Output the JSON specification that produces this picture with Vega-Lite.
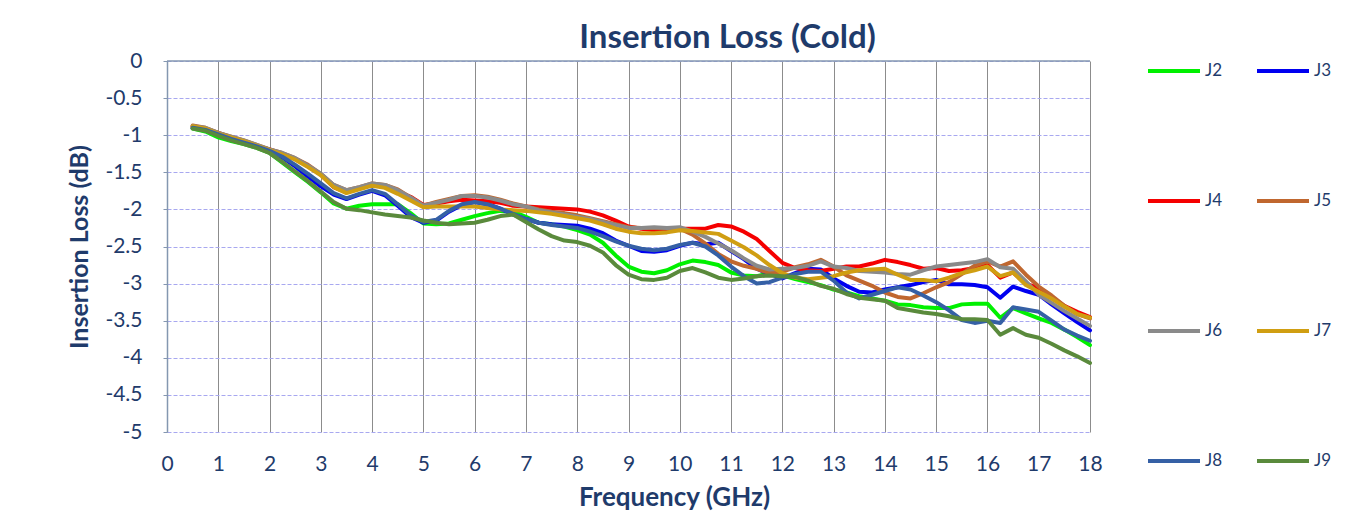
{
"$schema": "https://vega.github.io/schema/vega-lite/v6.json",
"width": 923, "height": 371,
"autosize": {"type": "none"},
"padding": {"left": 167, "top": 61, "right": 269, "bottom": 93},
"background": "white",
"config": {"font": "Lato", "view": {"stroke": null}},
"title": {"text": "Insertion Loss (Cold)", "fontSize": 33, "font": "Lato", "fontWeight": "bold", "color": "#1F3B6B", "anchor": "middle", "dx": 99, "offset": 12, "dy": 24},
"resolve": {"axis": {"y": "independent"}},
"layer": [
{
"data": {"values": [{"y": 0}]},
"mark": {"type": "rule", "color": "#8497B0", "strokeWidth": 1.5},
"encoding": {"y": {"field": "y", "type": "quantitative", "scale": {"domain": [-5, 0]}, "axis": null}}
},
{
"data": {"values": [
{"f":0.5,"J2":-0.91,"J3":-0.9,"J4":-0.88,"J5":-0.87,"J6":-0.88,"J7":-0.88,"J8":-0.9,"J9":-0.91},
{"f":0.75,"J2":-0.95,"J3":-0.93,"J4":-0.91,"J5":-0.9,"J6":-0.9,"J7":-0.91,"J8":-0.93,"J9":-0.94},
{"f":1.0,"J2":-1.03,"J3":-0.99,"J4":-0.97,"J5":-0.97,"J6":-0.97,"J7":-0.98,"J8":-0.99,"J9":-1.01},
{"f":1.25,"J2":-1.08,"J3":-1.05,"J4":-1.03,"J5":-1.02,"J6":-1.02,"J7":-1.03,"J8":-1.05,"J9":-1.07},
{"f":1.5,"J2":-1.12,"J3":-1.1,"J4":-1.08,"J5":-1.07,"J6":-1.07,"J7":-1.08,"J8":-1.1,"J9":-1.12},
{"f":1.75,"J2":-1.17,"J3":-1.15,"J4":-1.14,"J5":-1.13,"J6":-1.13,"J7":-1.14,"J8":-1.15,"J9":-1.17},
{"f":2.0,"J2":-1.24,"J3":-1.21,"J4":-1.19,"J5":-1.19,"J6":-1.19,"J7":-1.2,"J8":-1.21,"J9":-1.24},
{"f":2.25,"J2":-1.37,"J3":-1.3,"J4":-1.25,"J5":-1.24,"J6":-1.24,"J7":-1.26,"J8":-1.29,"J9":-1.36},
{"f":2.5,"J2":-1.5,"J3":-1.42,"J4":-1.32,"J5":-1.31,"J6":-1.31,"J7":-1.33,"J8":-1.4,"J9":-1.49},
{"f":2.75,"J2":-1.63,"J3":-1.56,"J4":-1.42,"J5":-1.4,"J6":-1.41,"J7":-1.43,"J8":-1.52,"J9":-1.62},
{"f":3.0,"J2":-1.77,"J3":-1.69,"J4":-1.53,"J5":-1.52,"J6":-1.52,"J7":-1.54,"J8":-1.65,"J9":-1.76},
{"f":3.25,"J2":-1.92,"J3":-1.8,"J4":-1.7,"J5":-1.67,"J6":-1.67,"J7":-1.7,"J8":-1.78,"J9":-1.9},
{"f":3.5,"J2":-1.99,"J3":-1.86,"J4":-1.77,"J5":-1.74,"J6":-1.74,"J7":-1.78,"J8":-1.85,"J9":-1.99},
{"f":3.75,"J2":-1.95,"J3":-1.8,"J4":-1.72,"J5":-1.7,"J6":-1.7,"J7":-1.73,"J8":-1.79,"J9":-2.01},
{"f":4.0,"J2":-1.93,"J3":-1.75,"J4":-1.67,"J5":-1.65,"J6":-1.65,"J7":-1.68,"J8":-1.74,"J9":-2.04},
{"f":4.25,"J2":-1.93,"J3":-1.81,"J4":-1.7,"J5":-1.67,"J6":-1.67,"J7":-1.71,"J8":-1.79,"J9":-2.07},
{"f":4.5,"J2":-1.93,"J3":-1.95,"J4":-1.76,"J5":-1.73,"J6":-1.74,"J7":-1.79,"J8":-1.93,"J9":-2.09},
{"f":4.75,"J2":-2.05,"J3":-2.1,"J4":-1.83,"J5":-1.84,"J6":-1.84,"J7":-1.88,"J8":-2.08,"J9":-2.11},
{"f":5.0,"J2":-2.19,"J3":-2.18,"J4":-1.94,"J5":-1.95,"J6":-1.95,"J7":-1.97,"J8":-2.17,"J9":-2.15},
{"f":5.25,"J2":-2.2,"J3":-2.15,"J4":-1.92,"J5":-1.9,"J6":-1.91,"J7":-1.96,"J8":-2.14,"J9":-2.18},
{"f":5.5,"J2":-2.19,"J3":-2.03,"J4":-1.89,"J5":-1.86,"J6":-1.87,"J7":-1.96,"J8":-2.02,"J9":-2.2},
{"f":5.75,"J2":-2.14,"J3":-1.94,"J4":-1.87,"J5":-1.82,"J6":-1.82,"J7":-1.96,"J8":-1.93,"J9":-2.19},
{"f":6.0,"J2":-2.09,"J3":-1.9,"J4":-1.88,"J5":-1.81,"J6":-1.82,"J7":-1.96,"J8":-1.9,"J9":-2.18},
{"f":6.25,"J2":-2.05,"J3":-1.93,"J4":-1.89,"J5":-1.83,"J6":-1.84,"J7":-1.98,"J8":-1.93,"J9":-2.14},
{"f":6.5,"J2":-2.02,"J3":-1.99,"J4":-1.91,"J5":-1.87,"J6":-1.88,"J7":-2.0,"J8":-1.99,"J9":-2.09},
{"f":6.75,"J2":-2.03,"J3":-2.07,"J4":-1.95,"J5":-1.92,"J6":-1.93,"J7":-2.01,"J8":-2.06,"J9":-2.07},
{"f":7.0,"J2":-2.1,"J3":-2.13,"J4":-1.96,"J5":-1.96,"J6":-1.96,"J7":-2.02,"J8":-2.13,"J9":-2.17},
{"f":7.25,"J2":-2.18,"J3":-2.18,"J4":-1.97,"J5":-2.0,"J6":-2.01,"J7":-2.04,"J8":-2.18,"J9":-2.27},
{"f":7.5,"J2":-2.2,"J3":-2.2,"J4":-1.98,"J5":-2.03,"J6":-2.04,"J7":-2.06,"J8":-2.21,"J9":-2.36},
{"f":7.75,"J2":-2.23,"J3":-2.21,"J4":-1.99,"J5":-2.05,"J6":-2.07,"J7":-2.09,"J8":-2.23,"J9":-2.42},
{"f":8.0,"J2":-2.28,"J3":-2.22,"J4":-2.0,"J5":-2.08,"J6":-2.1,"J7":-2.12,"J8":-2.25,"J9":-2.44},
{"f":8.25,"J2":-2.34,"J3":-2.26,"J4":-2.03,"J5":-2.12,"J6":-2.13,"J7":-2.15,"J8":-2.3,"J9":-2.49},
{"f":8.5,"J2":-2.45,"J3":-2.32,"J4":-2.08,"J5":-2.16,"J6":-2.17,"J7":-2.2,"J8":-2.36,"J9":-2.58},
{"f":8.75,"J2":-2.62,"J3":-2.42,"J4":-2.15,"J5":-2.2,"J6":-2.21,"J7":-2.26,"J8":-2.43,"J9":-2.75},
{"f":9.0,"J2":-2.77,"J3":-2.49,"J4":-2.23,"J5":-2.24,"J6":-2.25,"J7":-2.3,"J8":-2.49,"J9":-2.88},
{"f":9.25,"J2":-2.84,"J3":-2.56,"J4":-2.26,"J5":-2.25,"J6":-2.25,"J7":-2.32,"J8":-2.53,"J9":-2.94},
{"f":9.5,"J2":-2.86,"J3":-2.57,"J4":-2.28,"J5":-2.25,"J6":-2.24,"J7":-2.32,"J8":-2.55,"J9":-2.95},
{"f":9.75,"J2":-2.82,"J3":-2.55,"J4":-2.28,"J5":-2.26,"J6":-2.25,"J7":-2.31,"J8":-2.53,"J9":-2.92},
{"f":10.0,"J2":-2.74,"J3":-2.49,"J4":-2.26,"J5":-2.26,"J6":-2.24,"J7":-2.28,"J8":-2.48,"J9":-2.83},
{"f":10.25,"J2":-2.69,"J3":-2.45,"J4":-2.26,"J5":-2.34,"J6":-2.3,"J7":-2.29,"J8":-2.45,"J9":-2.79},
{"f":10.5,"J2":-2.71,"J3":-2.47,"J4":-2.26,"J5":-2.46,"J6":-2.37,"J7":-2.31,"J8":-2.5,"J9":-2.85},
{"f":10.75,"J2":-2.75,"J3":-2.45,"J4":-2.21,"J5":-2.6,"J6":-2.46,"J7":-2.33,"J8":-2.62,"J9":-2.92},
{"f":11.0,"J2":-2.85,"J3":-2.56,"J4":-2.23,"J5":-2.7,"J6":-2.55,"J7":-2.42,"J8":-2.77,"J9":-2.95},
{"f":11.25,"J2":-2.89,"J3":-2.67,"J4":-2.3,"J5":-2.76,"J6":-2.66,"J7":-2.51,"J8":-2.9,"J9":-2.93},
{"f":11.5,"J2":-2.9,"J3":-2.8,"J4":-2.4,"J5":-2.8,"J6":-2.76,"J7":-2.62,"J8":-3.0,"J9":-2.9},
{"f":11.75,"J2":-2.86,"J3":-2.87,"J4":-2.56,"J5":-2.86,"J6":-2.81,"J7":-2.75,"J8":-2.98,"J9":-2.89},
{"f":12.0,"J2":-2.89,"J3":-2.93,"J4":-2.72,"J5":-2.84,"J6":-2.8,"J7":-2.86,"J8":-2.92,"J9":-2.9},
{"f":12.25,"J2":-2.94,"J3":-2.86,"J4":-2.79,"J5":-2.78,"J6":-2.79,"J7":-2.92,"J8":-2.87,"J9":-2.91},
{"f":12.5,"J2":-2.98,"J3":-2.8,"J4":-2.82,"J5":-2.74,"J6":-2.76,"J7":-2.94,"J8":-2.84,"J9":-2.96},
{"f":12.75,"J2":-3.02,"J3":-2.81,"J4":-2.83,"J5":-2.68,"J6":-2.7,"J7":-2.92,"J8":-2.84,"J9":-3.03},
{"f":13.0,"J2":-3.08,"J3":-2.93,"J4":-2.8,"J5":-2.77,"J6":-2.77,"J7":-2.9,"J8":-2.96,"J9":-3.07},
{"f":13.25,"J2":-3.12,"J3":-3.03,"J4":-2.77,"J5":-2.89,"J6":-2.79,"J7":-2.85,"J8":-3.12,"J9":-3.14},
{"f":13.5,"J2":-3.17,"J3":-3.11,"J4":-2.77,"J5":-2.96,"J6":-2.83,"J7":-2.82,"J8":-3.2,"J9":-3.19},
{"f":13.75,"J2":-3.2,"J3":-3.12,"J4":-2.73,"J5":-3.03,"J6":-2.84,"J7":-2.81,"J8":-3.15,"J9":-3.21},
{"f":14.0,"J2":-3.23,"J3":-3.08,"J4":-2.68,"J5":-3.12,"J6":-2.85,"J7":-2.8,"J8":-3.1,"J9":-3.23},
{"f":14.25,"J2":-3.28,"J3":-3.05,"J4":-2.71,"J5":-3.18,"J6":-2.87,"J7":-2.88,"J8":-3.05,"J9":-3.33},
{"f":14.5,"J2":-3.29,"J3":-3.02,"J4":-2.75,"J5":-3.2,"J6":-2.88,"J7":-2.95,"J8":-3.08,"J9":-3.36},
{"f":14.75,"J2":-3.32,"J3":-2.98,"J4":-2.8,"J5":-3.13,"J6":-2.82,"J7":-2.95,"J8":-3.16,"J9":-3.39},
{"f":15.0,"J2":-3.33,"J3":-2.95,"J4":-2.79,"J5":-3.05,"J6":-2.77,"J7":-2.97,"J8":-3.25,"J9":-3.41},
{"f":15.25,"J2":-3.33,"J3":-3.01,"J4":-2.83,"J5":-2.98,"J6":-2.75,"J7":-2.92,"J8":-3.36,"J9":-3.44},
{"f":15.5,"J2":-3.28,"J3":-3.01,"J4":-2.82,"J5":-2.87,"J6":-2.73,"J7":-2.86,"J8":-3.49,"J9":-3.48},
{"f":15.75,"J2":-3.27,"J3":-3.02,"J4":-2.79,"J5":-2.76,"J6":-2.71,"J7":-2.82,"J8":-3.53,"J9":-3.48},
{"f":16.0,"J2":-3.27,"J3":-3.05,"J4":-2.75,"J5":-2.7,"J6":-2.67,"J7":-2.77,"J8":-3.5,"J9":-3.49},
{"f":16.25,"J2":-3.46,"J3":-3.19,"J4":-2.92,"J5":-2.77,"J6":-2.78,"J7":-2.9,"J8":-3.53,"J9":-3.69},
{"f":16.5,"J2":-3.33,"J3":-3.04,"J4":-2.85,"J5":-2.7,"J6":-2.8,"J7":-2.85,"J8":-3.32,"J9":-3.6},
{"f":16.75,"J2":-3.4,"J3":-3.1,"J4":-3.0,"J5":-2.88,"J6":-2.97,"J7":-3.02,"J8":-3.35,"J9":-3.69},
{"f":17.0,"J2":-3.47,"J3":-3.15,"J4":-3.06,"J5":-3.04,"J6":-3.15,"J7":-3.11,"J8":-3.38,"J9":-3.73},
{"f":17.25,"J2":-3.53,"J3":-3.28,"J4":-3.18,"J5":-3.16,"J6":-3.26,"J7":-3.2,"J8":-3.5,"J9":-3.81},
{"f":17.5,"J2":-3.62,"J3":-3.4,"J4":-3.3,"J5":-3.3,"J6":-3.37,"J7":-3.31,"J8":-3.62,"J9":-3.9},
{"f":17.75,"J2":-3.72,"J3":-3.52,"J4":-3.38,"J5":-3.41,"J6":-3.47,"J7":-3.41,"J8":-3.7,"J9":-3.98},
{"f":18.0,"J2":-3.83,"J3":-3.63,"J4":-3.45,"J5":-3.47,"J6":-3.57,"J7":-3.46,"J8":-3.77,"J9":-4.07}
]},
"transform": [{"fold": ["J2","J3","J4","J5","J6","J7","J8","J9"], "as": ["series", "loss"]}],
"mark": {"type": "line", "strokeWidth": 4, "strokeCap": "round", "strokeJoin": "round"},
"encoding": {
"x": {"field": "f", "type": "quantitative", "scale": {"domain": [0, 18], "nice": false},
 "axis": {"values": [0,1,2,3,4,5,6,7,8,9,10,11,12,13,14,15,16,17,18], "grid": true, "gridColor": "#8C8C8C", "gridWidth": 1, "domain": false, "ticks": false, "labelFlush": false, "labelPadding": 21, "labelFontSize": 21, "labelFont": "Lato", "labelColor": "#1F3B6B", "title": "Frequency (GHz)", "titleFont": "Lato", "titleFontSize": 26, "titleFontWeight": "bold", "titleColor": "#1F3B6B", "titlePadding": 10, "titleX": 507}},
"y": {"field": "loss", "type": "quantitative", "scale": {"domain": [-5, 0], "nice": false},
 "axis": {"orient": "left", "values": [-5,-4.5,-4,-3.5,-3,-2.5,-2,-1.5,-1,-0.5,0], "labelExpr": "'' + datum.value", "labelOverlap": false, "grid": true, "gridColor": "#A8A8F0", "gridDash": [4, 2], "gridWidth": 1, "domain": true, "domainColor": "#8497B0", "domainWidth": 1.5, "ticks": true, "tickColor": "#8497B0", "tickSize": 4, "labelPadding": 21, "labelFontSize": 21, "labelFont": "Lato", "labelColor": "#1F3B6B", "title": "Insertion Loss (dB)", "titleFont": "Lato", "titleFontSize": 25, "titleFontWeight": "bold", "titleColor": "#1F3B6B", "titlePadding": 12}},
"color": {"field": "series", "type": "nominal",
 "scale": {"domain": ["J2","J3","J4","J5","J6","J7","J8","J9"], "range": ["#00F000","#0000F0","#F50000","#C0672F","#8A8A8A","#D09E12","#3560A5","#5A8A3C"]},
 "legend": {"orient": "none", "legendX": 979, "legendY": -18, "columns": 2, "direction": "horizontal", "title": null, "symbolType": "stroke", "symbolSize": 2704, "symbolStrokeWidth": 4, "labelFontSize": 17, "labelFont": "Lato", "labelColor": "#1F3B6B", "labelOffset": 3, "rowPadding": 94, "columnPadding": 26, "padding": 0}}
}
}
]
}
